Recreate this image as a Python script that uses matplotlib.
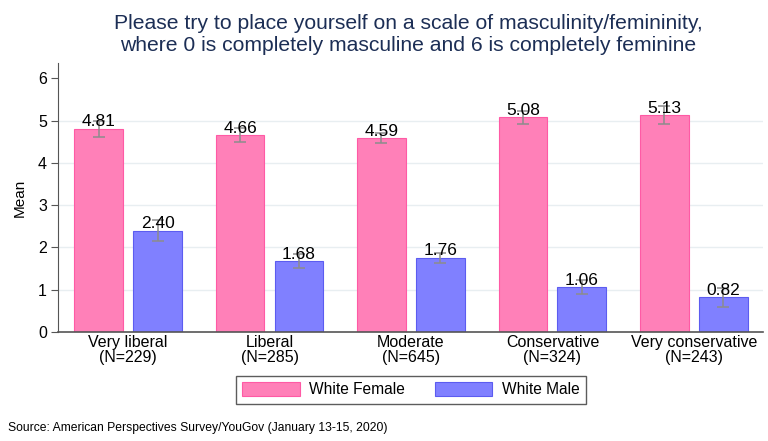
import numpy as np
import matplotlib.pyplot as plt

plt.rcParams["font.family"] = ["Liberation Sans", "DejaVu Sans"]

categories = ["Very liberal\n(N=229)", "Liberal\n(N=285)", "Moderate\n(N=645)",
              "Conservative\n(N=324)", "Very conservative\n(N=243)"]
female_mean = [4.81, 4.66, 4.59, 5.08, 5.13]
male_mean = [2.40, 1.68, 1.76, 1.06, 0.82]
# half-width of the confidence intervals
female_err = [0.19, 0.16, 0.11, 0.15, 0.22]
male_err = [0.25, 0.17, 0.12, 0.16, 0.22]

pink = "#ff80b8"
blue = "#8080ff"

fig = plt.figure(figsize=(7.68, 4.41), dpi=100)
ax = fig.add_axes([0.0755, 0.247, 0.918, 0.61])

x = np.arange(len(categories))
w = 0.346
off = 0.2085

ax.bar(x - off, female_mean, w, color=pink, edgecolor="#ff5aa5", linewidth=0.8,
       label="White Female", zorder=2)
ax.bar(x + off, male_mean, w, color=blue, edgecolor="#5c5cf0", linewidth=0.8,
       label="White Male", zorder=2)
ax.errorbar(x - off, female_mean, yerr=female_err, fmt="none", ecolor="#8c8c8c",
            elinewidth=1.1, capsize=4, capthick=1.1, zorder=3)
ax.errorbar(x + off, male_mean, yerr=male_err, fmt="none", ecolor="#8c8c8c",
            elinewidth=1.1, capsize=4, capthick=1.1, zorder=3)

for xi, v in zip(x - off, female_mean):
    ax.text(xi, v - 0.02, f"{v:.2f}", ha="center", va="bottom", fontsize=12.5, zorder=4)
for xi, v in zip(x + off, male_mean):
    ax.text(xi, v - 0.02, f"{v:.2f}", ha="center", va="bottom", fontsize=12.5, zorder=4)

ax.set_xlim(-0.495, 4.488)
ax.set_ylim(0, 6.36)
ax.set_yticks(range(7))
ax.tick_params(axis="y", labelsize=11.5, length=5, color="#555555", pad=3)
ax.set_xticks(x)
ax.set_xticklabels(categories, fontsize=11.5, linespacing=1.03)
ax.tick_params(axis="x", length=0, pad=2)
for g in range(1, 6):
    ax.axhline(g, color="#e8eef1", linewidth=1, zorder=1)
ax.set_ylabel("Mean", fontsize=11, labelpad=8)

for s in ["top", "right"]:
    ax.spines[s].set_visible(False)
ax.spines["left"].set_color("#555555")
ax.spines["bottom"].set_color("#555555")
ax.spines["bottom"].set_linewidth(1.2)

fig.text(0.532, 0.922, "Please try to place yourself on a scale of masculinity/femininity,\n"
         "where 0 is completely masculine and 6 is completely feminine",
         ha="center", va="center", fontsize=15.2, color="#1c2e55", linespacing=1.15)

leg = fig.legend(loc="center", bbox_to_anchor=(0.535, 0.116), ncol=2, fontsize=11.2,
                 frameon=True, fancybox=False, edgecolor="#333333",
                 handlelength=3.7, handleheight=1.0, handletextpad=0.6,
                 columnspacing=1.9, borderpad=0.4, borderaxespad=0)
leg.get_frame().set_linewidth(1.0)

fig.text(0.01, 0.03, "Source: American Perspectives Survey/YouGov (January 13-15, 2020)",
         fontsize=8.7, ha="left", va="center")

fig.savefig("out.png", dpi=100)
